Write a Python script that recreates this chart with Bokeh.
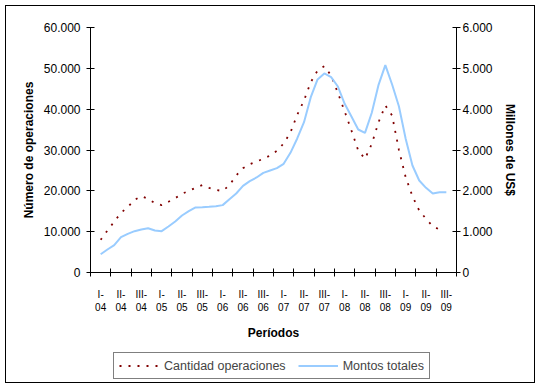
import math
from bokeh.plotting import figure
from bokeh.models import Range1d, LinearAxis, FixedTicker, Legend, LegendItem
from bokeh.core.properties import value
from bokeh.embed import file_html
from bokeh.resources import INLINE

# ---- data ----
periods = ["I-04", "II-04", "III-04", "I-05", "II-05", "III-05",
           "I-06", "II-06", "III-06", "I-07", "II-07", "III-07",
           "I-08", "II-08", "III-08", "I-09", "II-09", "III-09"]
steps_per_period = 3

# Cantidad operaciones (left axis), starting at step index 1
operaciones_start = 1
operaciones = [8000, 10290, 12450, 14620, 16000, 17800, 18690, 18050, 16980, 16490,
               17310, 18200, 19270, 19980, 20740, 21400, 20740, 20200, 19960, 21390,
               23760, 25550, 26530, 27180, 27840, 28650, 29800, 31590, 34290, 38620,
               42120, 46610, 49470, 50520, 48250, 44000, 39430, 34780, 29880, 27840,
               31510, 36810, 40900, 38450, 30050, 23340, 18690, 15180, 13150, 11340,
               10530]

# Montos totales, millones de US$ (right axis), starting at step index 1
montos_start = 1
montos = [448, 563, 669, 865, 947, 1012, 1053, 1085, 1029, 1012,
          1127, 1249, 1396, 1502, 1592, 1600, 1609, 1624, 1650, 1796,
          1935, 2123, 2236, 2327, 2441, 2498, 2555, 2661, 2931, 3282,
          3681, 4294, 4727, 4874, 4784, 4555, 4131, 3820, 3502, 3421,
          3911, 4596, 5077, 4604, 4073, 3274, 2620, 2253, 2074, 1935,
          1967, 1967]

left_ticks = [0, 10000, 20000, 30000, 40000, 50000, 60000]
left_labels = ["0", "10.000", "20.000", "30.000", "40.000", "50.000", "60.000"]
right_ticks = [0, 1000, 2000, 3000, 4000, 5000, 6000]
right_labels = ["0", "1.000", "2.000", "3.000", "4.000", "5.000", "6.000"]

FONT = "Liberation Sans"
n_steps = len(periods) * steps_per_period

x_ops = [operaciones_start + k + 0.5 for k in range(len(operaciones))]
x_mon = [montos_start + k + 0.5 for k in range(len(montos))]

# ---- layout (pixels) ----
CANVAS_W = 528
LEFT_PAD, DATA_W = 84, 366          # data area starts 84 px from the left, 366 px wide
TOP_PAD, DATA_H, BELOW_H = 21, 245, 110
px_x = DATA_W / n_steps
left_max = left_ticks[-1]
right_max = right_ticks[-1]
px_y = DATA_H / left_max
x_start = -LEFT_PAD / px_x
x_end = n_steps + (CANVAS_W - LEFT_PAD - DATA_W) / px_x
left_min = -BELOW_H / px_y
left_top = left_max + TOP_PAD / px_y
right_scale = right_max / left_max

p = figure(frame_width=CANVAS_W, frame_height=TOP_PAD + DATA_H + BELOW_H,
           min_border_left=0, min_border_right=0, min_border_top=0, min_border_bottom=0,
           x_range=Range1d(x_start, x_end), y_range=Range1d(left_min, left_top),
           output_backend="svg", toolbar_location=None,
           x_axis_type=None, y_axis_type=None,
           background_fill_color="white", border_fill_color="white",
           styles={"border": "1px solid black", "margin-left": "5px", "margin-top": "5px"})
p.outline_line_color = None
p.grid.visible = False
p.extra_y_ranges = {"usd": Range1d(left_min * right_scale, left_top * right_scale)}

# x axis, drawn at the zero line
centers = [i * steps_per_period + steps_per_period / 2 for i in range(len(periods))]
bounds = [i * steps_per_period for i in range(len(periods) + 1)]
xaxis = LinearAxis(ticker=FixedTicker(ticks=centers, minor_ticks=bounds),
                   fixed_location=0, bounds=(0, n_steps))
xaxis.major_label_overrides = {c: lab.replace("-", "-\n") for c, lab in zip(centers, periods)}
xaxis.major_tick_in = 0
xaxis.major_tick_out = 0
xaxis.minor_tick_in = 4
xaxis.minor_tick_out = 4
xaxis.minor_tick_line_color = "black"
xaxis.major_label_standoff = 12
xaxis.major_label_text_font = FONT
xaxis.major_label_text_font_size = "10px"
xaxis.axis_label = "Períodos"
xaxis.axis_label_text_font = FONT
xaxis.axis_label_text_font_size = "12px"
xaxis.axis_label_text_font_style = "bold"
xaxis.axis_label_standoff = 10
p.add_layout(xaxis, "below")

# left axis
yaxis = LinearAxis(ticker=FixedTicker(ticks=left_ticks, minor_ticks=[]),
                   fixed_location=0, bounds=(0, left_max))
yaxis.major_label_overrides = dict(zip(left_ticks, left_labels))
yaxis.major_tick_in = 4
yaxis.major_tick_out = 4
yaxis.major_label_standoff = 6
yaxis.major_label_text_font = FONT
yaxis.major_label_text_font_size = "12px"
p.add_layout(yaxis, "left")

# right axis
raxis = LinearAxis(y_range_name="usd", ticker=FixedTicker(ticks=right_ticks, minor_ticks=[]),
                   fixed_location=n_steps, bounds=(0, right_max))
raxis.major_label_overrides = dict(zip(right_ticks, right_labels))
raxis.major_tick_in = 4
raxis.major_tick_out = 4
raxis.major_label_standoff = 2
raxis.major_label_text_font = FONT
raxis.major_label_text_font_size = "12px"
p.add_layout(raxis, "right")

for ax in (xaxis, yaxis, raxis):
    ax.axis_line_color = "black"
    ax.major_tick_line_color = "black"
    ax.major_label_text_color = "black"
    ax.axis_label_text_color = "black"

# axis titles for the two value axes
p.text(x=[x_start + 22 / px_x], y=[left_max / 2], text=["Número de operaciones"],
       angle=math.pi / 2, text_align="center", text_baseline="middle",
       text_font=value(FONT), text_font_size="12px", text_font_style="bold", text_color="black")
p.text(x=[n_steps + 53.5 / px_x], y=[right_max / 2], y_range_name="usd", text=["Millones de US$"],
       angle=-math.pi / 2, text_align="center", text_baseline="middle",
       text_font=value(FONT), text_font_size="12px", text_font_style="bold", text_color="black")

r_ops = p.line(x_ops, operaciones, line_color="#800000", line_width=1.8, line_dash="2 7")
r_mon = p.line(x_mon, montos, y_range_name="usd", line_color="#99CCFF", line_width=2)

legend = Legend(items=[LegendItem(label="Cantidad operaciones", renderers=[r_ops]),
                       LegendItem(label="Montos totales", renderers=[r_mon])],
                orientation="horizontal", location=(107, 3),
                glyph_width=40, glyph_height=15, label_height=15,
                label_standoff=5, spacing=12, padding=5, margin=0,
                label_text_font=FONT, label_text_font_size="12.5px",
                border_line_color="black", border_line_width=1,
                background_fill_color="white")
p.add_layout(legend, "center")

open("out.html", "w").write(file_html(p, INLINE))
